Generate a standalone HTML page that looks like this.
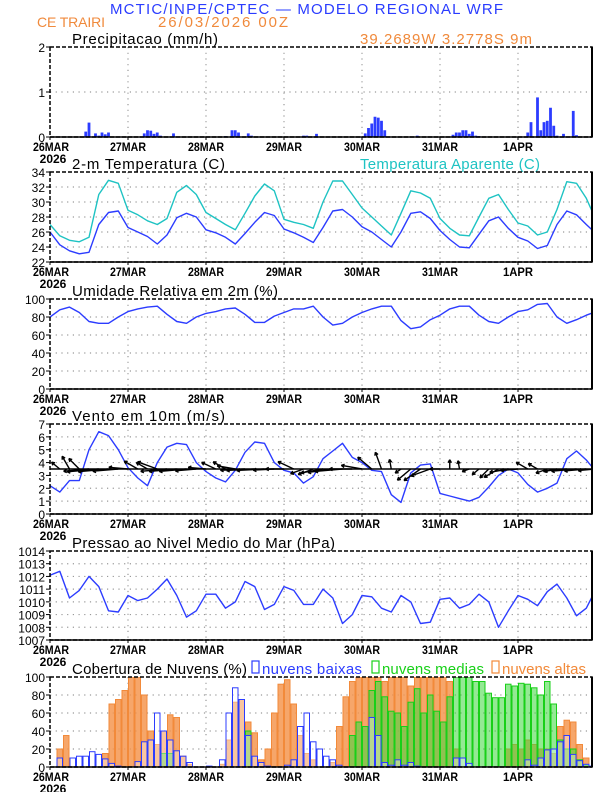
<!DOCTYPE html>
<html><head><meta charset="utf-8">
<style>
html,body{margin:0;padding:0;background:#fff;}
svg{display:block;font-family:"Liberation Sans",sans-serif;}
</style></head>
<body>
<svg id="chart" width="612" height="792" viewBox="0 0 612 792" xmlns="http://www.w3.org/2000/svg">
<text x="110" y="14" font-size="15" fill="#2a3cff" textLength="393" lengthAdjust="spacing">MCTIC/INPE/CPTEC — MODELO REGIONAL WRF</text>
<text x="37" y="27" font-size="14" fill="#f08a3c" textLength="68" lengthAdjust="spacing">CE TRAIRI</text>
<text x="158" y="27" font-size="15" fill="#f08a3c" textLength="130" lengthAdjust="spacing">26/03/2026 00Z</text>
<text x="360" y="44" font-size="15" fill="#f08a3c" textLength="172" lengthAdjust="spacing">39.2689W 3.2778S 9m</text>
<g id="panels"></g>
</svg>
<script>
// ---------- data ----------
const days = ["26MAR","27MAR","28MAR","29MAR","30MAR","31MAR","1APR"];
const hours3 = [0,3,6,9,12,15,18,21,24,27,30,33,36,39,42,45,48,51,54,57,60,63,66,69,72,75,78,81,84,87,90,93,96,99,102,105,108,111,114,117,120,123,126,129,132,135,138,141,144,147,150,153,156,159,162,165,168];
const precipHours = [11,12,14,15,16,17,18,29,30,31,32,33,34,38,54,56,57,58,61,62,78,79,82,97,98,99,100,101,102,103,113,124,125,126,127,128,129,130,131,132,147,148,150,151,152,153,154,155,156,158,161,162];
const precipValues = [0.12,0.32,0.08,0.03,0.1,0.06,0.1,0.08,0.15,0.14,0.07,0.1,0.03,0.08,0.02,0.15,0.15,0.1,0.08,0.03,0.03,0.03,0.07,0.08,0.2,0.3,0.45,0.43,0.36,0.15,0.03,0.05,0.1,0.1,0.15,0.15,0.07,0.12,0.03,0.02,0.1,0.33,0.88,0.15,0.33,0.36,0.65,0.25,0.03,0.07,0.58,0.04];
const temp2m = [26.0,24.3,23.5,23.1,23.3,27.0,28.6,28.8, 26.6,26.0,25.4,24.4,25.6,27.9,28.5,28.0, 26.3,25.9,25.3,24.4,25.8,27.3,28.6,28.2, 26.4,25.9,25.3,24.6,26.6,28.8,29.0,28.0, 26.7,26.0,25.0,24.0,26.0,28.5,28.7,27.8, 26.2,25.0,24.0,23.9,25.7,27.5,28.0,26.5, 25.3,24.8,23.8,24.2,27.0,28.8,28.3,27.0,25.8];
const tempApparent = [27.0,25.5,24.9,24.7,25.3,31.0,32.9,32.5, 28.9,28.3,27.5,27.0,27.8,31.3,32.2,31.0, 28.6,27.8,27.0,26.3,28.5,30.8,32.4,31.5, 27.7,27.3,27.0,26.5,30.0,32.8,32.8,31.0, 29.2,28.0,26.8,25.6,28.5,31.5,31.2,30.5, 27.8,26.5,25.6,25.5,28.0,30.5,31.0,29.0, 27.2,26.8,25.6,26.0,29.0,32.7,32.5,30.5,27.6];
const humidity = [80,88,91,85,75,73,73,80,86,89,91,92,83,75,73,80,84,86,89,90,83,74,74,81,85,89,89,92,80,71,73,80,85,89,92,92,76,67,69,77,82,89,92,92,82,75,73,80,86,88,94,95,80,73,77,82,86];
const windSpeed = [2.2,1.7,2.6,2.6,5.0,6.4,6.1,5.0,3.6,2.8,2.2,4.0,5.2,5.5,5.4,4.0,3.3,2.8,2.5,3.4,4.8,5.6,5.5,4.0,3.4,3.2,2.4,2.9,4.3,4.9,5.5,4.4,4.0,3.4,3.3,1.5,0.9,3.2,3.8,3.9,1.6,1.4,1.2,1.0,1.3,2.1,3.0,3.5,3.2,2.3,1.7,2.0,2.4,4.3,4.9,4.2,3.3];
const windDirDeg = [150,140,120,135,185,185,185,185,175,150,150,160,185,185,185,185,175,155,150,170,183,183,183,183,180,155,200,200,190,188,185,180,170,140,110,100,215,220,215,200,180,90,100,200,220,225,210,190,185,150,150,200,190,185,185,185,185];
const pressure = [1012.1,1012.4,1010.3,1010.9,1012.0,1011.2,1009.3,1009.2,1010.5,1010.1,1010.3,1011.0,1011.8,1010.5,1008.8,1009.3,1010.6,1010.6,1009.5,1010.0,1011.6,1011.2,1009.4,1009.8,1011.2,1010.9,1009.8,1009.8,1011.0,1010.3,1008.3,1009.0,1010.5,1010.4,1009.5,1009.2,1010.5,1010.0,1008.3,1008.4,1010.2,1010.3,1009.5,1009.8,1010.6,1010.0,1008.0,1009.3,1010.5,1010.2,1009.7,1010.8,1011.4,1010.3,1008.9,1009.5,1011.0];
const cloudLow = [0,10,0,10,12,12,17,14,9,4,1,0,0,6,28,30,60,40,30,18,12,5,0,0,1,0,8,60,88,75,35,12,5,1,0,0,2,8,45,60,28,20,12,8,2,0,0,0,0,55,35,5,2,8,2,5,1,0,0,0,0,0,10,10,4,0,0,0,0,0,0,0,0,8,2,10,19,20,28,35,14,7,3,1];
const cloudMid = [0,0,0,0,0,0,0,0,0,0,0,0,0,0,0,0,0,15,15,0,0,0,0,0,0,0,0,0,0,0,40,0,0,0,0,0,0,0,0,0,0,0,0,0,0,0,35,50,45,85,95,78,62,60,45,72,87,60,80,62,50,78,100,100,100,95,95,82,77,77,92,90,93,92,88,80,95,70,30,20,20,8,2,0];
const cloudHigh = [0,20,35,0,0,0,0,0,15,70,75,85,100,100,80,40,25,40,58,55,12,3,0,0,0,0,3,30,72,75,50,38,8,20,60,92,97,70,35,15,8,0,0,5,45,78,95,100,100,100,100,95,100,100,100,90,100,100,100,100,100,95,20,0,0,0,0,0,0,0,20,25,20,30,25,20,20,15,45,52,50,25,10,0];
const yTicksPrecip = [0,1,2];
const yTicksTemp = [22,24,26,28,30,32,34];
const yTicksHum = [0,20,40,60,80,100];
const yTicksWind = [0,1,2,3,4,5,6,7];
const yTicksPres = [1007,1008,1009,1010,1011,1012,1013,1014];
const yTicksCloud = [0,20,40,60,80,100];

// ---------- helpers ----------
const NS="http://www.w3.org/2000/svg";
const root=document.getElementById('panels');
const X0=50, X1=592, PXH=3.25;
function x(h){return X0+h*PXH;}
function mk(tag,attrs,parent){const e=document.createElementNS(NS,tag);for(const k in attrs)e.setAttribute(k,attrs[k]);(parent||root).appendChild(e);return e;}
function yScale(p){return v=>p.bottom-(v-p.min)/(p.max-p.min)*(p.bottom-p.top);}
const BLUE="#2c3cff", CYAN="#1ec3c3";

function panel(name,top,bottom,min,max,ticks,title,titleLen){
  const p={top,bottom,min,max};p.y=yScale(p);
  const g=mk('g',{});
  
  
  p.g=g;
  const cid='clip-'+name;
  const cp=mk('clipPath',{id:cid},g);mk('rect',{x:X0,y:top,width:X1-X0,height:bottom-top},cp);
  ticks.forEach(t=>{if(t!==min&&t!==max){const l=mk('line',{x1:X0,x2:X1,y1:p.y(t),y2:p.y(t),stroke:'#999','stroke-dasharray':'1.2,4.5','stroke-width':1.2},g);
    }});
  for(let d=1;d<days.length;d++){const l=mk('line',{x1:x(d*24),x2:x(d*24),y1:top,y2:bottom,stroke:'#999','stroke-dasharray':'1.2,4.5','stroke-width':1.2},g);
    }
  ticks.forEach(t=>{const tx=mk('text',{x:45,y:p.y(t)+5,'font-size':12,'text-anchor':'end',fill:'#000'},g);tx.textContent=t;
    
    mk('line',{x1:46,x2:X0,y1:p.y(t),y2:p.y(t),stroke:'#000','stroke-width':1},g);});
  days.forEach((d,i)=>{const tx=mk('text',{x:x(i*24)+(i==0?1:0),y:bottom+14,'font-size':12,'font-weight':'bold','text-anchor':'middle',fill:'#000',textLength:d.length>4?36:30,lengthAdjust:'spacingAndGlyphs'},g);tx.textContent=d;
    
    mk('line',{x1:x(i*24),x2:x(i*24),y1:bottom,y2:bottom+3,stroke:'#000'},g);});
  const yr=mk('text',{x:53,y:bottom+26,'font-size':12,'font-weight':'bold','text-anchor':'middle',fill:'#000'},g);yr.textContent='2026';
  
  const tt=mk('text',{x:72,y:top-3,'font-size':15,fill:'#000',textLength:titleLen,lengthAdjust:'spacing'},g);tt.textContent=title;
  
  p.plot=mk('g',{'clip-path':'url(#'+cid+')'},g);
  return p;
}
function frame(p){
  const b=mk('rect',{x:X0,y:p.top,width:X1-X0,height:p.bottom-p.top,fill:'none',stroke:'#000','stroke-width':1.5,'stroke-dasharray':'4,2'},p.g);
  
  mk('line',{x1:X1,x2:X1,y1:p.top,y2:p.bottom,stroke:'#000','stroke-width':2},p.g);
  mk('line',{x1:X0,x2:X1,y1:p.bottom,y2:p.bottom,stroke:'#000','stroke-width':1.5},p.g);
}
function line(p,vals,color,name){
  const d=vals.map((v,i)=>(i?'L':'M')+x(hours3[i]).toFixed(1)+','+p.y(v).toFixed(1)).join('');
  const e=mk('path',{d,fill:'none',stroke:color,'stroke-width':1.4,'stroke-linejoin':'round'},p.plot);
  
}

// precip
const pP=panel('precip',47,137,0,2,yTicksPrecip,'Precipitacao (mm/h)',146);
precipHours.forEach((h,i)=>{const r=mk('rect',{x:x(h)-1.4,y:pP.y(precipValues[i]),width:2.8,height:pP.bottom-pP.y(precipValues[i]),fill:BLUE},pP.plot);
  });
frame(pP);

// temperature
const pT=panel('temperature',172,262,22,34,yTicksTemp,'2-m Temperatura (C)',153);
const at=mk('text',{x:360,y:169,'font-size':15,fill:CYAN,textLength:180,lengthAdjust:'spacing'},pT.g);at.textContent='Temperatura Aparente (C)';

line(pT,tempApparent,CYAN,'apparent-temp-line');
line(pT,temp2m,BLUE,'temp-2m-line');
frame(pT);

// humidity
const pH=panel('humidity',299,389,0,100,yTicksHum,'Umidade Relativa em 2m (%)',206);
line(pH,humidity,BLUE,'humidity-line');
frame(pH);

// wind
const pW=panel('wind',424,514,0,7,yTicksWind,'Vento em 10m (m/s)',153);
line(pW,windSpeed,BLUE,'wind-speed-line');
const by=pW.y(3.5);
mk('line',{x1:X0,x2:X1,y1:by,y2:by,stroke:'#000','stroke-width':1.5},pW.plot);
windDirDeg.forEach((a,i)=>{
  const h=hours3[i],L=windSpeed[i]*4.5+3,rad=a*Math.PI/180;
  const x0=x(h),x1=x0+L*Math.cos(rad),y1=by-L*Math.sin(rad);
  const g=mk('g',{stroke:'#000','stroke-width':1.4,fill:'none'},pW.plot);
  
  mk('line',{x1:x0,y1:by,x2:x1,y2:y1},g);
  [0.5,-0.5].forEach(o=>{const r2=rad+Math.PI+o;mk('line',{x1:x1,y1:y1,x2:x1+3.5*Math.cos(r2),y2:y1-3.5*Math.sin(r2)},g);});
});
frame(pW);

// pressure
const pPr=panel('pressure',551,640,1007,1014,yTicksPres,'Pressao ao Nivel Medio do Mar (hPa)',263);
line(pPr,pressure,BLUE,'pressure-line');
frame(pPr);

// clouds
const pC=panel('clouds',677,767,0,100,yTicksCloud,'Cobertura de Nuvens (%)',175);
function bars(vals,fill,stroke,name){
  vals.forEach((v,j)=>{if(v<=0)return;const r=mk('rect',{x:x(j*2)+0.5,y:pC.y(v),width:2*PXH-1,height:pC.bottom-pC.y(v),fill,stroke,'stroke-width':1},pC.plot);
    });
}
bars(cloudHigh,'rgba(244,150,80,0.85)','#f28a3a','high-cloud-bar');
bars(cloudMid,'rgba(60,215,60,0.55)','#18d018','mid-cloud-bar');
bars(cloudLow,'rgba(255,255,255,0.35)','#2c3cff','low-cloud-bar');
const leg=[[252,'nuvens baixas','#2c3cff','legend-low-clouds',100],[372,'nuvens medias','#18d018','legend-mid-clouds',102],[492,'nuvens altas','#f28a3a','legend-high-clouds',84]];
leg.forEach(l=>{const g=mk('g',{},pC.g);
  mk('rect',{x:l[0],y:661,width:7,height:12,fill:'none',stroke:l[2],'stroke-width':1.2},g);
  const t=mk('text',{x:l[0]+10,y:674,'font-size':15,fill:l[2],textLength:l[4],lengthAdjust:'spacing'},g);t.textContent=l[1];});
frame(pC);
</script>
</body></html>
